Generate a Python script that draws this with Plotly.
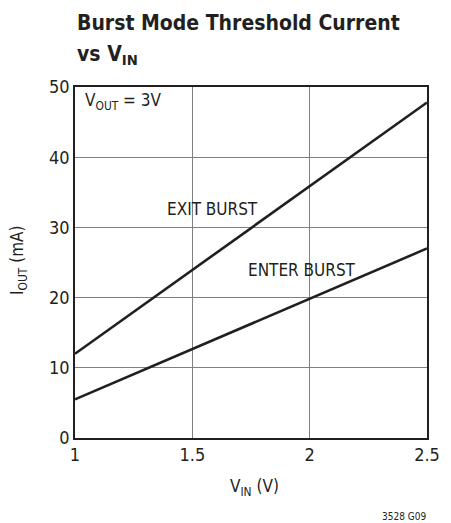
import plotly.graph_objects as go

vin = [1.0, 2.5]
exit_burst = [12.0, 47.8]
enter_burst = [5.5, 27.0]
x_ticks = [1, 1.5, 2, 2.5]
x_tick_labels = ["1", "1.5", "2", "2.5"]
y_ticks = [0, 10, 20, 30, 40, 50]

FONT = "DejaVu Sans Condensed, Liberation Sans Narrow, Arial Narrow, sans-serif"
INK = "#231f20"

# page body has an 8px margin; compensate
OFF = 8
L, T = 75 - OFF, 87 - OFF
W, H = 451 - OFF, 523 - OFF
R = W - L - 352
B = H - T - 351

fig = go.Figure()
fig.add_trace(go.Scatter(x=vin, y=exit_burst, mode="lines", line=dict(color=INK, width=2.6), name="EXIT BURST"))
fig.add_trace(go.Scatter(x=vin, y=enter_burst, mode="lines", line=dict(color=INK, width=2.6), name="ENTER BURST"))

fig.update_layout(
    width=W, height=H,
    margin=dict(l=L, r=R, t=T, b=B, autoexpand=False),
    paper_bgcolor="white", plot_bgcolor="white",
    showlegend=False,
    font=dict(family=FONT, color=INK, size=17),
)

def px_x(px):
    return (px - 75) / 352.0

def px_y(py):
    return (438 - py) / 351.0

fig.add_annotation(x=px_x(75), y=px_y(23), xref="paper", yref="paper",
                   text="<b>Burst Mode Threshold Current</b>", showarrow=False,
                   xanchor="left", yanchor="middle", font=dict(size=21))
fig.add_annotation(x=px_x(75), y=px_y(55), xref="paper", yref="paper",
                   text="<b>vs V<sub>IN</sub></b>", showarrow=False,
                   xanchor="left", yanchor="middle", font=dict(size=21))

fig.update_xaxes(
    range=[1, 2.5], tickvals=x_ticks, ticktext=x_tick_labels,
    showgrid=True, gridcolor="#808080", gridwidth=1,
    showline=True, linecolor=INK, linewidth=1.5, mirror=True,
    ticks="", zeroline=False, tickfont=dict(size=18), automargin=False,
)
fig.update_yaxes(
    range=[0, 50], tickvals=y_ticks,
    showgrid=True, gridcolor="#808080", gridwidth=1,
    showline=True, linecolor=INK, linewidth=1.5, mirror=True,
    ticks="", zeroline=False, tickfont=dict(size=18), automargin=False,
)

# axis titles
fig.add_annotation(x=px_x(254), y=px_y(487), xref="paper", yref="paper", text="V<sub>IN</sub> (V)",
                   showarrow=False, xanchor="center", yanchor="middle", font=dict(size=17))
fig.add_annotation(x=px_x(18), y=px_y(261), xref="paper", yref="paper", text="I<sub>OUT</sub> (mA)",
                   showarrow=False, xanchor="center", yanchor="middle", textangle=-90, font=dict(size=17))

fig.add_annotation(x=px_x(83), y=px_y(102), xref="paper", yref="paper", text="V<sub>OUT</sub> = 3V",
                   showarrow=False, xanchor="left", yanchor="middle", font=dict(size=17))
fig.add_annotation(x=px_x(212), y=px_y(209), xref="paper", yref="paper", text="EXIT BURST",
                   showarrow=False, xanchor="center", yanchor="middle", font=dict(size=17))
fig.add_annotation(x=px_x(302), y=px_y(270), xref="paper", yref="paper", text="ENTER BURST",
                   showarrow=False, xanchor="center", yanchor="middle", font=dict(size=17))
fig.add_annotation(x=px_x(428), y=px_y(516), xref="paper", yref="paper", text="3528 G09",
                   showarrow=False, xanchor="right", yanchor="middle", font=dict(size=10))

fig.write_html("out.html")
